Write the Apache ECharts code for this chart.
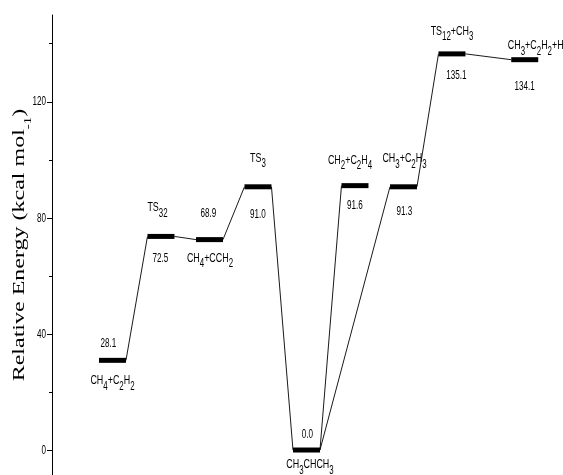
<!DOCTYPE html>
<html><head><meta charset="utf-8">
<script src="https://cdn.jsdelivr.net/npm/echarts@6/dist/echarts.min.js"></script>
<style>html,body{margin:0;padding:0;background:#fff}#c{width:563px;height:475px}</style>
</head><body><div id="c"></div>
<script>
// ---- data ----
const species = ['CH4+C2H2','TS32','CH4+CCH2','TS3','CH3CHCH3','CH2+C2H4','CH3+C2H3','TS12+CH3','CH3+C2H2+H'];
const energyLabels = ['28.1','72.5','68.9','91.0','0.0','91.6','91.3','135.1','134.1'];
const plottedEnergy = [30.9,73.6,72.5,90.7,0,91.1,90.7,136.5,134.5];
const reactionCoord = [0,1,2,3,4,5,6,7,8.5];
const links = [[0,1],[1,2],[2,3],[3,4],[4,5],[4,6],[6,7],[7,8]];
const yTicks = [0,40,80,120];
const yTickLabels = ['0','40','80','120'];
const yMinorTicks = [20,60,100,140];
const yTitle = 'Relative Energy (kcal mol{sup|-1})';

// ---- layout / style ----
const SANS = '"Liberation Sans",Arial,sans-serif';
const SERIF = '"Liberation Serif","Times New Roman",serif';
const NARROW_NUM = 0.6, NARROW_NAME = 0.66;
const BAR_HALF = 13.5, BAR_H = 5;
const nameOffset = [[0,20],[-3.5,-29],[0.5,18.5],[0,-29],[3.5,14.5],[-5,-25.5],[1,-28.5],[0,-22.7],[11,-14]];
const valueOffset = [[-4,-17],[-0.5,22],[-1,-26],[0,27],[1,-16],[0,20],[1,24],[4.5,21.3],[0,27]];
const richSub = { s: { fontSize: 12, fontFamily: SANS, padding: [12,0,0,0], lineHeight: 12, fill: '#000' } };
function toRich(s){ return s.replace(/\d+/g, m => '{s|' + m + '}'); }

const chart = echarts.init(document.getElementById('c'));
const yMin = -8.61, yMax = 149.9, xMin = -1.247, xMax = 9.289;
chart.setOption({
  animation: false,
  backgroundColor: '#fff',
  grid: { left: 52, right: 0, top: 15, bottom: 0 },
  xAxis: { type: 'value', min: xMin, max: xMax, show: false },
  yAxis: [
    { type: 'value', min: yMin, max: yMax, position: 'left',
      axisLine: { show: true, onZero: false, lineStyle: { color: '#000', width: 1 } },
      axisTick: { show: true, length: 5, customValues: yTicks, lineStyle: { color: '#000', width: 1 } },
      axisLabel: { show: false },
      splitLine: { show: false } },
    { type: 'value', min: yMin, max: yMax, position: 'right', offset: -511,
      axisLine: { show: false, onZero: false },
      axisTick: { show: true, inside: true, length: 3, customValues: yMinorTicks, lineStyle: { color: '#000', width: 1 } },
      axisLabel: { show: false }, splitLine: { show: false } }
  ],
  graphic: [{
    type: 'text', x: 20, y: 245, rotation: Math.PI / 2, scaleX: 1.5, scaleY: 1,
    style: { text: yTitle, font: '16px ' + SERIF, fill: '#000', align: 'center', verticalAlign: 'middle',
      rich: { sup: { fontSize: 10, fontFamily: SERIF, padding: [16,0,0,0], lineHeight: 10, fill: '#000' } } }
  }],
  series: [
    { type: 'custom', coordinateSystem: 'cartesian2d',
      data: yTicks.map((v, i) => [xMin, v, i]),
      renderItem(params, api) {
        const p = api.coord([api.value(0), api.value(1)]);
        return { type: 'text', x: p[0] - 6, y: p[1], scaleX: NARROW_NUM,
          style: { text: yTickLabels[params.dataIndex], font: '13.5px ' + SANS, fill: '#000', align: 'right', verticalAlign: 'middle' } };
      } },
    { type: 'custom', coordinateSystem: 'cartesian2d',
      data: links.map(l => [reactionCoord[l[0]], plottedEnergy[l[0]], reactionCoord[l[1]], plottedEnergy[l[1]]]),
      encode: { x: [0, 2], y: [1, 3] },
      renderItem(params, api) {
        const a = api.coord([api.value(0), api.value(1)]);
        const b = api.coord([api.value(2), api.value(3)]);
        return { type: 'line', shape: { x1: a[0] + BAR_HALF, y1: a[1], x2: b[0] - BAR_HALF, y2: b[1] },
          style: { stroke: '#000', lineWidth: 0.9 } };
      } },
    { type: 'custom', coordinateSystem: 'cartesian2d',
      data: reactionCoord.map((x, i) => [x, plottedEnergy[i]]),
      renderItem(params, api) {
        const i = params.dataIndex;
        const p = api.coord([api.value(0), api.value(1)]);
        return { type: 'group', children: [
          { type: 'rect', shape: { x: p[0] - BAR_HALF, y: p[1] - BAR_H / 2, width: 2 * BAR_HALF, height: BAR_H }, style: { fill: '#000' } },
          { type: 'text', x: p[0] + nameOffset[i][0], y: p[1] + nameOffset[i][1], scaleX: NARROW_NAME,
            style: { text: toRich(species[i]), font: '13.5px ' + SANS, fill: '#000', align: 'center', verticalAlign: 'middle', rich: richSub } },
          { type: 'text', x: p[0] + valueOffset[i][0], y: p[1] + valueOffset[i][1], scaleX: NARROW_NUM,
            style: { text: energyLabels[i], font: '13.5px ' + SANS, fill: '#000', align: 'center', verticalAlign: 'middle' } }
        ] };
      } }
  ]
});
</script></body></html>
